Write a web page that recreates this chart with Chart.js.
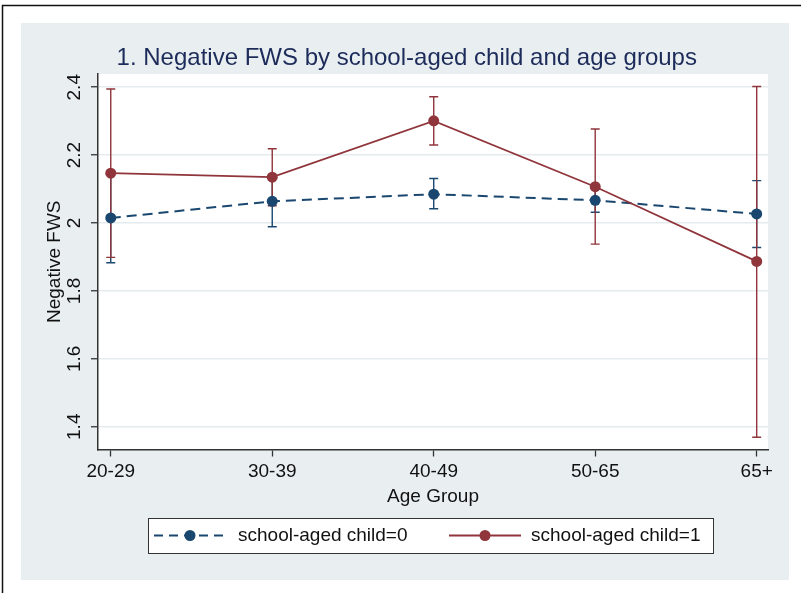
<!DOCTYPE html>
<html>
<head>
<meta charset="utf-8">
<script src="https://cdn.jsdelivr.net/npm/chart.js@4"></script>
<style>
  html, body { margin: 0; padding: 0; background: #fff; }
  #wrap { width: 801px; height: 593px; }
</style>
</head>
<body>
<div id="wrap"><canvas id="fwsChart" width="801" height="593"></canvas></div>
<script>
  // Age groups and the two series (mean with lower / upper CI)
  var ageGroups = ["20-29", "30-39", "40-49", "50-65", "65+"];

  var child0Mean = [2.015, 2.064, 2.085, 2.067, 2.027];
  var child0Low  = [1.883, 1.989, 2.042, 2.032, 1.928];
  var child0High = [2.147, 2.139, 2.131, 2.102, 2.125];

  var child1Mean = [2.147, 2.135, 2.301, 2.107, 1.887];
  var child1Low  = [1.899, 2.051, 2.230, 1.938, 1.369];
  var child1High = [2.395, 2.219, 2.372, 2.277, 2.402];

  var yTicks = [1.4, 1.6, 1.8, 2, 2.2, 2.4];
  var seriesLabels = ["school-aged child=0", "school-aged child=1"];

  var navy = "#1a476f";
  var maroon = "#90353b";
  var fontFamily = "'Liberation Sans', Arial, sans-serif";
  var textSize = 19;

  function toPoints(vals) {
    return vals.map(function (v, i) { return { x: i, y: v }; });
  }

  // Stata-like background: white page, light panel, white plot region
  var backgroundPlugin = {
    id: "background",
    beforeDraw: function (chart) {
      var ctx = chart.ctx, a = chart.chartArea;
      ctx.save();
      ctx.fillStyle = "#ffffff";
      ctx.fillRect(0, 0, chart.width, chart.height);
      ctx.strokeStyle = "#111";
      ctx.lineWidth = 1.5;
      ctx.beginPath();
      ctx.moveTo(2.5, chart.height);
      ctx.lineTo(2.5, 5.5);
      ctx.lineTo(chart.width, 5.5);
      ctx.stroke();
      ctx.fillStyle = "#e9eff1";
      ctx.fillRect(21, 23, 768, 557);
      ctx.fillStyle = "#ffffff";
      ctx.fillRect(a.left, a.top, a.right - a.left, a.bottom - a.top);
      ctx.restore();
    }
  };

  // confidence interval caps, drawn under the lines
  var errorBarPlugin = {
    id: "errorBars",
    beforeDatasetsDraw: function (chart) {
      var ctx = chart.ctx;
      var xs = chart.scales.x, ys = chart.scales.y;
      var sets = [
        { lo: child0Low, hi: child0High, color: navy },
        { lo: child1Low, hi: child1High, color: maroon }
      ];
      ctx.save();
      sets.forEach(function (s) {
        ctx.strokeStyle = s.color;
        ctx.lineWidth = 1.4;
        s.lo.forEach(function (lo, i) {
          var px = xs.getPixelForValue(i);
          var y1 = ys.getPixelForValue(lo);
          var y2 = ys.getPixelForValue(s.hi[i]);
          ctx.beginPath();
          ctx.moveTo(px, y1); ctx.lineTo(px, y2);
          ctx.moveTo(px - 4.5, y1); ctx.lineTo(px + 4.5, y1);
          ctx.moveTo(px - 4.5, y2); ctx.lineTo(px + 4.5, y2);
          ctx.stroke();
        });
      });
      ctx.restore();
    }
  };

  // vertical y tick labels and the boxed legend
  var labelsPlugin = {
    id: "labels",
    afterDraw: function (chart) {
      var ctx = chart.ctx, ys = chart.scales.y;
      ctx.save();
      ctx.fillStyle = "#111";
      ctx.font = textSize + "px " + fontFamily;
      ctx.textAlign = "center";
      ctx.textBaseline = "middle";
      yTicks.forEach(function (v) {
        ctx.save();
        ctx.translate(75, ys.getPixelForValue(v));
        ctx.rotate(-Math.PI / 2);
        ctx.fillText(String(v), 0, 0);
        ctx.restore();
      });

      // legend box
      var top = 518, bottom = 553, mid = (top + bottom) / 2;
      ctx.fillStyle = "#ffffff";
      ctx.fillRect(148, top, 565, bottom - top);
      ctx.strokeStyle = "#333";
      ctx.lineWidth = 1;
      ctx.strokeRect(148.5, top + 0.5, 565, bottom - top);

      var keys = [
        { x1: 154, x2: 226, color: navy, dash: [9, 6], textX: 238 },
        { x1: 449, x2: 521, color: maroon, dash: [], textX: 531 }
      ];
      keys.forEach(function (k, i) {
        ctx.strokeStyle = k.color;
        ctx.lineWidth = 2;
        ctx.setLineDash(k.dash);
        ctx.beginPath();
        ctx.moveTo(k.x1, mid); ctx.lineTo(k.x2, mid);
        ctx.stroke();
        ctx.setLineDash([]);
        ctx.fillStyle = k.color;
        ctx.beginPath();
        ctx.arc((k.x1 + k.x2) / 2, mid, 5.5, 0, Math.PI * 2);
        ctx.fill();
        ctx.fillStyle = "#111";
        ctx.textAlign = "left";
        ctx.fillText(seriesLabels[i], k.textX, mid);
      });
      ctx.restore();
    }
  };

  var ctx = document.getElementById("fwsChart").getContext("2d");
  new Chart(ctx, {
    type: "line",
    data: {
      datasets: [
        {
          label: seriesLabels[0],
          data: toPoints(child0Mean),
          borderColor: navy,
          backgroundColor: navy,
          borderWidth: 2,
          borderDash: [10, 6],
          pointRadius: 5.5,
          pointBorderWidth: 0,
          order: 1
        },
        {
          label: seriesLabels[1],
          data: toPoints(child1Mean),
          borderColor: maroon,
          backgroundColor: maroon,
          borderWidth: 1.8,
          pointRadius: 5.5,
          pointBorderWidth: 0,
          order: 0
        }
      ]
    },
    options: {
      responsive: false,
      animation: false,
      layout: { padding: { left: 45.5, right: 33, top: 20, bottom: 86.5 } },
      plugins: {
        legend: { display: false },
        tooltip: { enabled: false },
        title: {
          display: true,
          text: "1. Negative FWS by school-aged child and age groups",
          color: "#1c2b59",
          font: { family: fontFamily, size: 24, weight: "normal", lineHeight: 1 },
          padding: { top: 26.5, bottom: 3.5 }
        }
      },
      scales: {
        x: {
          type: "linear",
          min: -0.079,
          max: 4.07,
          afterBuildTicks: function (scale) {
            scale.ticks = ageGroups.map(function (g, i) { return { value: i }; });
          },
          grid: { drawOnChartArea: false, tickLength: 7, tickColor: "#333", tickWidth: 1.3 },
          border: { color: "#333", width: 1.5 },
          ticks: {
            padding: 5.5,
            maxRotation: 0,
            color: "#111",
            font: { family: fontFamily, size: textSize, lineHeight: 1 },
            callback: function (v) { return ageGroups[v]; }
          },
          title: {
            display: true,
            text: "Age Group",
            color: "#111",
            font: { family: fontFamily, size: textSize, lineHeight: 1 },
            padding: { top: 1, bottom: 0 }
          }
        },
        y: {
          min: 1.333,
          max: 2.439,
          afterBuildTicks: function (scale) {
            scale.ticks = yTicks.map(function (v) { return { value: v }; });
          },
          grid: { color: "#e3ebee", lineWidth: 1.5, tickLength: 7, tickColor: "#333", tickWidth: 1.3 },
          border: { color: "#333", width: 1.5 },
          ticks: { display: false },
          title: {
            display: true,
            text: "Negative FWS",
            color: "#111",
            font: { family: fontFamily, size: textSize, lineHeight: 1 },
            padding: { top: 0, bottom: 26.5 }
          }
        }
      }
    },
    plugins: [backgroundPlugin, errorBarPlugin, labelsPlugin]
  });
</script>
</body>
</html>
